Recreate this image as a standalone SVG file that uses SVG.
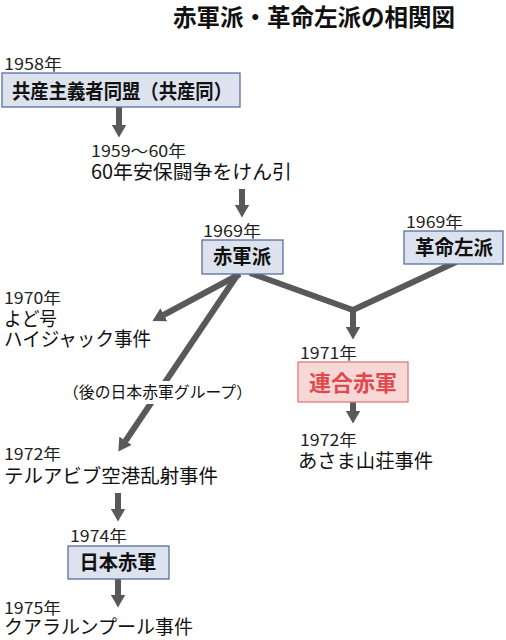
<svg xmlns="http://www.w3.org/2000/svg" width="506" height="640" viewBox="0 0 506 640">
<defs>
<style>
text{font-family:"Noto Sans CJK JP","Noto Sans",sans-serif;fill:#111}
.yr{font-size:15.5px;font-weight:400;fill:#222}
.ev{font-size:19.5px;font-weight:400}
.bx{fill:#dce2ee;stroke:#5a6fa0;stroke-width:1.3}
.bt{font-size:20px;font-weight:700;text-anchor:middle}
.red{fill:#f8d7d7;stroke:#e07b7b;stroke-width:1.3}
.rt{font-size:22px;font-weight:700;text-anchor:middle;fill:#de4a4d}
.ln{fill:none;stroke:#595959;stroke-width:6}
</style>
<marker id="ah" markerUnits="userSpaceOnUse" viewBox="0 0 13 15" markerWidth="13" markerHeight="15" refX="0.5" refY="7.5" orient="auto">
<path d="M0,0 L13,7.5 L0,15 z" fill="#595959"/>
</marker>
</defs>
<rect width="506" height="640" fill="#fff"/>
<text x="173" y="26" style="font-size:23.5px;font-weight:700" textLength="282" lengthAdjust="spacingAndGlyphs">赤軍派・革命左派の相関図</text>

<g id="connectors">
<line class="ln" x1="119" y1="107" x2="119" y2="125" marker-end="url(#ah)"/>
<line class="ln" x1="242" y1="189" x2="242" y2="205" marker-end="url(#ah)"/>
<line class="ln" x1="240" y1="274" x2="163.5" y2="315" marker-end="url(#ah)"/>
<line class="ln" x1="238" y1="274" x2="125.3" y2="441.2" marker-end="url(#ah)"/>
<polyline class="ln" points="250,273 353,310 456,262" stroke-linejoin="miter"/>
<line class="ln" x1="353" y1="308" x2="353" y2="327" marker-end="url(#ah)"/>
<line class="ln" x1="353" y1="402" x2="353" y2="411" marker-end="url(#ah)"/>
<line class="ln" x1="118" y1="493" x2="118" y2="509" marker-end="url(#ah)"/>
<line class="ln" x1="118" y1="579" x2="118" y2="595" marker-end="url(#ah)"/>
<g id="label-later">
<rect x="62" y="381" width="192" height="23" fill="#fff"/>
<text x="63" y="398" style="font-size:15.7px" textLength="189" lengthAdjust="spacingAndGlyphs">（後の日本赤軍グループ）</text>
</g>
</g>

<g id="kyosando">
<text class="yr" x="4" y="70" textLength="58" lengthAdjust="spacingAndGlyphs">1958年</text>
<rect class="bx" x="2" y="73" width="238" height="34"/>
<text class="bt" x="122" y="99" textLength="220" lengthAdjust="spacingAndGlyphs">共産主義者同盟（共産同）</text>
</g>

<g id="anpo">
<text class="yr" x="91" y="157" textLength="95" lengthAdjust="spacingAndGlyphs">1959〜60年</text>
<text class="ev" x="91" y="179" textLength="201" lengthAdjust="spacingAndGlyphs">60年安保闘争をけん引</text>
</g>

<g id="sekigunha">
<text class="yr" x="203" y="237" textLength="58" lengthAdjust="spacingAndGlyphs">1969年</text>
<rect class="bx" x="202" y="240" width="81" height="34"/>
<text class="bt" x="242" y="264" textLength="58" lengthAdjust="spacingAndGlyphs">赤軍派</text>
</g>

<g id="kakumei-saha">
<text class="yr" x="406" y="228" textLength="57" lengthAdjust="spacingAndGlyphs">1969年</text>
<rect class="bx" x="404" y="231" width="99" height="33"/>
<text class="bt" x="454" y="255" textLength="78" lengthAdjust="spacingAndGlyphs">革命左派</text>
</g>

<g id="yodo">
<text class="yr" x="4" y="304" textLength="57" lengthAdjust="spacingAndGlyphs">1970年</text>
<text class="ev" x="4" y="326" textLength="53" lengthAdjust="spacingAndGlyphs">よど号</text>
<text class="ev" x="4" y="346" textLength="147" lengthAdjust="spacingAndGlyphs">ハイジャック事件</text>
</g>

<g id="rengo">
<text class="yr" x="300" y="359" textLength="57" lengthAdjust="spacingAndGlyphs">1971年</text>
<rect class="red" x="298" y="362" width="110" height="40"/>
<text class="rt" x="353" y="391" textLength="88" lengthAdjust="spacingAndGlyphs">連合赤軍</text>
</g>

<g id="asama">
<text class="yr" x="300" y="446" textLength="57" lengthAdjust="spacingAndGlyphs">1972年</text>
<text class="ev" x="298" y="468" textLength="135" lengthAdjust="spacingAndGlyphs">あさま山荘事件</text>
</g>

<g id="telaviv">
<text class="yr" x="4" y="460" textLength="57" lengthAdjust="spacingAndGlyphs">1972年</text>
<text class="ev" x="4" y="483" textLength="214" lengthAdjust="spacingAndGlyphs">テルアビブ空港乱射事件</text>
</g>

<g id="nihon-sekigun">
<text class="yr" x="70" y="542" textLength="57" lengthAdjust="spacingAndGlyphs">1974年</text>
<rect class="bx" x="68" y="546" width="101" height="33"/>
<text class="bt" x="118" y="570" textLength="77" lengthAdjust="spacingAndGlyphs">日本赤軍</text>
</g>

<g id="kl">
<text class="yr" x="4" y="614" textLength="57" lengthAdjust="spacingAndGlyphs">1975年</text>
<text class="ev" x="4" y="634" style="font-size:19px" textLength="189" lengthAdjust="spacingAndGlyphs">クアラルンプール事件</text>
</g>
</svg>
